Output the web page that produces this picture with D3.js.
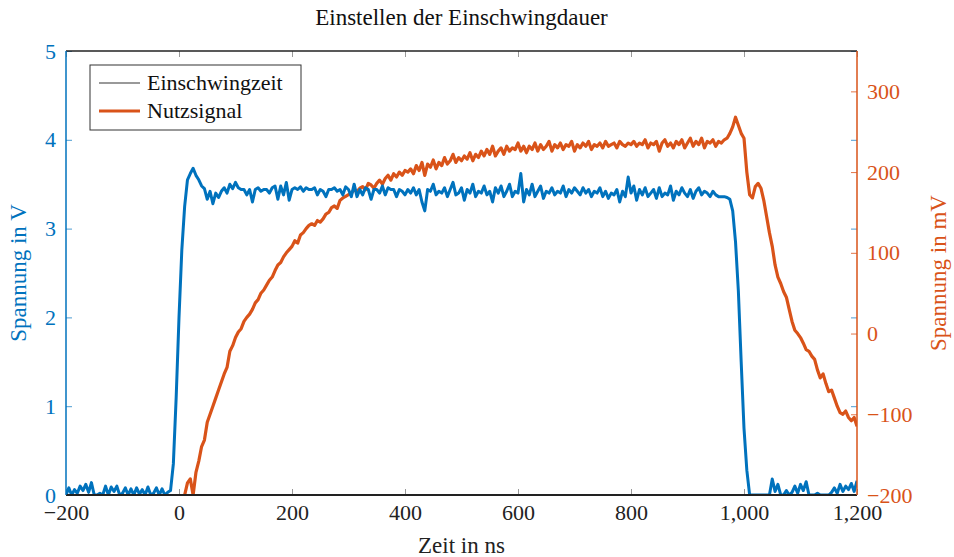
<!DOCTYPE html>
<html lang="de">
<head>
    <meta charset="UTF-8">
    <title>Einstellen der Einschwingdauer</title>
    <script src="https://d3js.org/d3.v7.min.js"></script>
    <style>
        body { margin: 0; background: #fff; }
        svg text { font-family: "Liberation Serif", "DejaVu Serif", serif !important; }
    </style>
</head>
<body>
    <div id="chart-container"></div>

    <script>
        // zeitachse: start und schrittweite der messpunkte (ns)
        const tStartBlue = -200;
        const tStartOrange = 10;
        const tStep = 5;

        // Einschwingzeit in V, -200 ns bis 1200 ns
        const einschwingzeit = [
            0,0.08,0,0.06,0.02,0.1,0.05,0.12,0.03,0.14,0,0,0.02,0,0.1,0,0.09,0.04,0.1,0,
            0.02,0.08,0,0.07,0,0.08,0.01,0.06,0,0.09,0,0.02,0.08,0,0.07,0,0.03,0.05,0.35,1.1,
            2.0,2.76,3.25,3.55,3.62,3.68,3.6,3.55,3.48,3.45,3.33,3.42,3.28,3.4,3.35,3.42,3.46,3.4,3.5,3.45,
            3.52,3.46,3.44,3.44,3.38,3.44,3.3,3.44,3.46,3.42,3.44,3.44,3.4,3.46,3.48,3.33,3.48,3.38,3.52,3.32,
            3.44,3.46,3.44,3.47,3.42,3.46,3.44,3.44,3.46,3.38,3.44,3.42,3.36,3.44,3.44,3.46,3.42,3.44,3.38,3.47,
            3.44,3.36,3.5,3.36,3.44,3.38,3.46,3.44,3.33,3.44,3.44,3.4,3.48,3.38,3.46,3.44,3.44,3.36,3.44,3.42,
            3.38,3.44,3.4,3.46,3.38,3.44,3.3,3.2,3.44,3.42,3.5,3.38,3.42,3.4,3.46,3.36,3.44,3.52,3.38,3.4,
            3.46,3.32,3.44,3.4,3.5,3.36,3.42,3.4,3.48,3.38,3.42,3.3,3.46,3.4,3.48,3.36,3.42,3.5,3.36,3.42,
            3.4,3.62,3.3,3.44,3.38,3.5,3.36,3.42,3.48,3.34,3.42,3.4,3.46,3.38,3.42,3.4,3.48,3.36,3.44,3.4,
            3.46,3.42,3.38,3.46,3.4,3.44,3.36,3.42,3.4,3.46,3.36,3.42,3.34,3.4,3.38,3.44,3.3,3.42,3.36,3.58,
            3.4,3.48,3.32,3.44,3.38,3.46,3.36,3.4,3.44,3.34,3.46,3.36,3.4,3.38,3.48,3.32,3.42,3.38,3.46,3.4,
            3.36,3.44,3.34,3.42,3.46,3.38,3.42,3.4,3.36,3.42,3.38,3.36,3.36,3.36,3.35,3.33,3.2,2.85,2.3,1.5,
            0.75,0.28,0,0,0,0,0,0,0,0,0.18,0.04,0.12,0,0,0.05,0,0.03,0.1,0.02,
            0.12,0.05,0.15,0,0,0,0.02,0,0,0,0,0.03,0.08,0.02,0.12,0.04,0.1,0.06,0.13,0.04,
            0.16
        ];

        // Nutzsignal in mV, 10 ns bis 1200 ns
        const nutzsignal = [
            -200,-185,-180,-200,-172,-158,-140,-132,-110,-100,-90,-80,-70,-60,-50,-42,-22,-15,-5,2,
            6,15,20,24,30,38,42,50,54,60,66,70,78,85,88,95,100,104,108,115,
            112,122,125,130,134,136,134,140,138,142,148,150,156,158,155,165,168,170,172,174,
            178,176,180,182,178,186,184,180,186,190,185,192,196,190,198,194,200,196,202,200,
            204,198,208,202,212,196,210,206,215,204,212,208,218,210,214,222,212,218,214,220,
            216,224,214,222,218,226,220,228,222,232,220,226,230,222,232,226,230,228,236,226,
            232,224,232,228,236,226,234,228,232,238,226,234,230,236,228,234,232,238,226,234,
            230,236,232,238,228,234,232,236,230,238,232,234,236,230,238,234,232,236,234,238,
            232,236,234,240,230,236,234,238,226,236,240,232,236,230,238,234,240,230,236,242,
            232,238,234,242,230,238,236,240,232,238,236,240,242,248,256,268,258,248,242,200,
            172,168,182,186,180,165,145,125,108,85,70,62,52,45,30,15,4,0,-5,-12,
            -20,-22,-28,-32,-45,-55,-50,-62,-72,-70,-80,-90,-98,-100,-96,-104,-108,-104,-115
        ];

        const xTicks = [-200, 0, 200, 400, 600, 800, 1000, 1200];
        const yLeftTicks = [0, 1, 2, 3, 4, 5];
        const yRightTicks = [-200, -100, 0, 100, 200, 300];

        const blau = "#0072BD";
        const orange = "#D95319";
        const schrift = '"Liberation Serif", "DejaVu Serif", serif';

        const containerWidth = 954;
        const containerHeight = 557;
        const margins = { top: 51, right: 97, bottom: 62, left: 66 };
        const width = containerWidth - margins.left - margins.right;
        const height = containerHeight - margins.top - margins.bottom;

        const root = d3.select("#chart-container")
            .append("svg")
            .attr("width", containerWidth)
            .attr("height", containerHeight)
            .attr("font-family", schrift);

        const svg = root.append("g")
            .attr("transform", `translate(${margins.left},${margins.top})`);

        const x = d3.scaleLinear().domain([-200, 1200]).range([0, width]);
        const yL = d3.scaleLinear().domain([0, 5]).range([height, 0]);
        const yR = d3.scaleLinear().domain([-200, 350]).range([height, 0]);

        const blueData = einschwingzeit.map((v, i) => ({ t: tStartBlue + i * tStep, v: v }));
        const orangeData = nutzsignal.map((v, i) => ({ t: tStartOrange + i * tStep, v: v }));

        svg.append("clipPath").attr("id", "clip")
            .append("rect").attr("width", width).attr("height", height);

        // x ticks unten und oben
        const xAxis = svg.append("g")
            .attr("transform", `translate(0,${height})`)
            .call(d3.axisBottom(x).tickValues(xTicks).tickSize(-6).tickPadding(9).tickFormat(d3.format(",")));
        xAxis.selectAll(".tick line").attr("stroke", "#999");
        xAxis.select(".domain").remove();
        xAxis.selectAll("text").attr("font-family", schrift).style("font-size", "22px").attr("fill", "#222");

        const xTop = svg.append("g")
            .call(d3.axisTop(x).tickValues(xTicks).tickSize(-6).tickFormat(""));
        xTop.selectAll(".tick line").attr("stroke", "#999");
        xTop.select(".domain").remove();

        // linke achse
        const leftAxis = svg.append("g")
            .call(d3.axisLeft(yL).tickValues(yLeftTicks).tickSize(-6).tickPadding(10).tickFormat(d3.format("d")));
        leftAxis.select(".domain").remove();
        leftAxis.selectAll(".tick line").attr("stroke", blau).attr("stroke-opacity", 0.7);
        leftAxis.selectAll("text").attr("font-family", schrift).style("font-size", "22px").attr("fill", blau);

        // rechte achse
        const rightBlue = svg.append("g")
            .attr("transform", `translate(${width},0)`)
            .call(d3.axisRight(yL).tickValues(yLeftTicks).tickSize(-6).tickFormat(""));
        rightBlue.select(".domain").remove();
        rightBlue.selectAll(".tick line").attr("stroke", blau).attr("stroke-opacity", 0.7);

        const rightAxis = svg.append("g")
            .attr("transform", `translate(${width},0)`)
            .call(d3.axisRight(yR).tickValues(yRightTicks).tickSize(-6).tickPadding(10).tickFormat(d3.format("d")));
        rightAxis.select(".domain").remove();
        rightAxis.selectAll(".tick line").attr("stroke", orange).attr("stroke-opacity", 0.8);
        rightAxis.selectAll("text").attr("font-family", schrift).style("font-size", "22px").attr("fill", orange);

        // linien
        const lineBlue = d3.line().x(d => x(d.t)).y(d => yL(d.v));
        const lineOrange = d3.line().x(d => x(d.t)).y(d => yR(d.v));

        svg.append("path")
            .datum(orangeData)
            .attr("clip-path", "url(#clip)")
            .attr("fill", "none")
            .attr("stroke", orange)
            .attr("stroke-width", 3.2)
            .attr("stroke-linejoin", "round")
            .attr("d", lineOrange);

        svg.append("path")
            .datum(blueData)
            .attr("clip-path", "url(#clip)")
            .attr("fill", "none")
            .attr("stroke", blau)
            .attr("stroke-width", 3)
            .attr("stroke-linejoin", "round")
            .attr("d", lineBlue);

        // rahmen
        svg.append("line").attr("x1", 0).attr("x2", width).attr("y1", 0).attr("y2", 0)
            .attr("stroke", "#222").attr("stroke-width", 1.5);
        svg.append("line").attr("x1", 0).attr("x2", width).attr("y1", height).attr("y2", height)
            .attr("stroke", "#222").attr("stroke-width", 2);
        svg.append("line").attr("x1", 0).attr("x2", 0).attr("y1", 0).attr("y2", height)
            .attr("stroke", blau).attr("stroke-width", 1.5);
        svg.append("line").attr("x1", width).attr("x2", width).attr("y1", 0).attr("y2", height)
            .attr("stroke", orange).attr("stroke-width", 1.5);

        // titel und achsenbeschriftungen
        root.append("text")
            .attr("x", margins.left + width / 2)
            .attr("y", 25)
            .attr("text-anchor", "middle")
            .style("font-size", "23px")
            .attr("fill", "#111")
            .text("Einstellen der Einschwingdauer");

        root.append("text")
            .attr("x", margins.left + width / 2)
            .attr("y", 553)
            .attr("text-anchor", "middle")
            .style("font-size", "23px")
            .attr("fill", "#222")
            .text("Zeit in ns");

        root.append("text")
            .attr("transform", `translate(26,${margins.top + height / 2}) rotate(-90)`)
            .attr("text-anchor", "middle")
            .style("font-size", "23px")
            .attr("fill", blau)
            .text("Spannung in V");

        root.append("text")
            .attr("transform", `translate(946,${margins.top + height / 2}) rotate(-90)`)
            .attr("text-anchor", "middle")
            .style("font-size", "23px")
            .attr("fill", orange)
            .text("Spannung in mV");

        // legende
        const legend = root.append("g").attr("transform", "translate(90,65)");
        legend.append("rect")
            .attr("width", 211).attr("height", 65)
            .attr("fill", "#fff").attr("stroke", "#333").attr("stroke-width", 1);
        legend.append("line").attr("x1", 9).attr("x2", 50).attr("y1", 18).attr("y2", 18)
            .attr("stroke", "#777").attr("stroke-width", 1.5);
        legend.append("line").attr("x1", 9).attr("x2", 50).attr("y1", 46).attr("y2", 46)
            .attr("stroke", orange).attr("stroke-width", 3.2);
        legend.append("text").attr("x", 57).attr("y", 25).style("font-size", "22px").attr("fill", "#111")
            .text("Einschwingzeit");
        legend.append("text").attr("x", 57).attr("y", 53).style("font-size", "22px").attr("fill", "#111")
            .text("Nutzsignal");
    </script>
</body>
</html>
